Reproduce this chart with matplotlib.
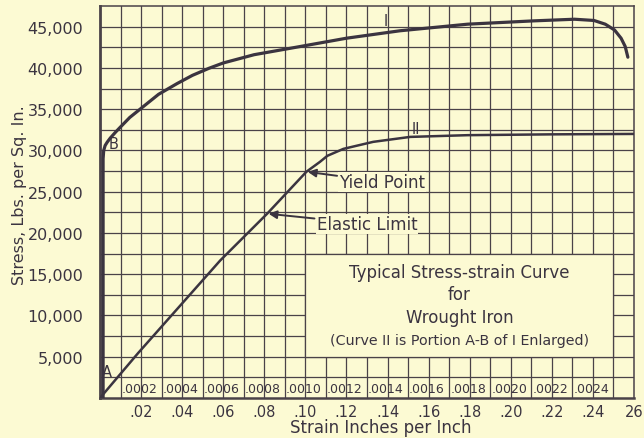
import matplotlib.pyplot as plt
import numpy as np

# curve I : full test
strain_1 = [0.0015, 0.0015, 0.0018, 0.0025, 0.0035, 0.005, 0.0075, 0.010, 0.0145, 0.0195,
            0.0285, 0.0375, 0.045, 0.053, 0.060, 0.075, 0.0976, 0.120, 0.146, 0.179,
            0.211, 0.231, 0.2405, 0.246, 0.2505, 0.2537, 0.2557, 0.257]
stress_1 = [0, 29000, 30000, 30600, 31000, 31500, 32200, 32850, 34000, 35000,
            36800, 38100, 39100, 39950, 40600, 41600, 42600, 43600, 44500, 45300,
            45700, 45900, 45750, 45300, 44600, 43600, 42600, 41300]

# curve II : portion A-B enlarged
strain_2 = [0, 0.0185, 0.0585, 0.0814, 0.1005, 0.1070, 0.1107, 0.1185, 0.133, 0.151, 0.179, 0.22, 0.26]
stress_2 = [0, 5430, 16660, 22340, 27420, 28600, 29350, 30190, 31040, 31640, 31850, 31950, 32000]

y_ticks = [5000, 10000, 15000, 20000, 25000, 30000, 35000, 40000, 45000]
x_ticks = [0.02, 0.04, 0.06, 0.08, 0.10, 0.12, 0.14, 0.16, 0.18, 0.20, 0.22, 0.24, 0.26]
x_labels = [".02", ".04", ".06", ".08", ".10", ".12", ".14", ".16", ".18", ".20", ".22", ".24", "26"]
small_labels = [".0002", ".0004", ".0006", ".0008", ".0010", ".0012", ".0014",
                ".0016", ".0018", ".0020", ".0022", ".0024"]

bg = "#fcfad3"
ink = "#3b3440"
grid_col = "#4a4248"

fig = plt.figure(figsize=(6.44, 4.39), dpi=100, facecolor=bg)
ax = fig.add_axes([0.1553, 0.0911, 0.8292, 0.8929])
ax.set_facecolor(bg)

ax.set_xlim(0, 0.26)
ax.set_ylim(0, 47500)

# grid every 0.01 / 2500
for xv in np.arange(0.01, 0.26, 0.01):
    ax.axvline(xv, color=grid_col, lw=0.9, zorder=1)
for yv in np.arange(2500, 47500, 2500):
    ax.axhline(yv, color=grid_col, lw=0.9, zorder=1)

for s in ax.spines.values():
    s.set_color(grid_col)
    s.set_linewidth(1.1)
ax.spines["left"].set_linewidth(2.0)
ax.spines["bottom"].set_linewidth(1.8)

# info box hides the grid
box = plt.Rectangle((0.10, 5000), 0.15, 12500, facecolor=bg, edgecolor=grid_col, lw=0.9, zorder=2)
ax.add_patch(box)

ax.plot(strain_1, stress_1, color=ink, lw=2.3, zorder=4, solid_capstyle="round", solid_joinstyle="round")
ax.plot(strain_2, stress_2, color=ink, lw=1.8, zorder=4, solid_capstyle="round", solid_joinstyle="round")

ax.set_xticks(x_ticks)
ax.set_xticklabels(x_labels)
ax.set_yticks(y_ticks)
ax.set_yticklabels([f"{v:,}" for v in y_ticks])
ax.tick_params(axis="y", length=0, colors=ink, labelsize=11.5, pad=12)
ax.tick_params(axis="x", length=0, colors=ink, labelsize=10.5, pad=4)

for i, lab in enumerate(small_labels):
    ax.text(0.0105 + 0.02 * i, 1200, lab, fontsize=9, color=ink, ha="left", va="center", zorder=3)

ax.text(0.0035, 3200, "A", fontsize=10.5, color=ink, ha="center", va="center", zorder=5)
ax.text(0.0065, 30900, "B", fontsize=10.5, color=ink, ha="center", va="center", zorder=5)
ax.text(0.139, 45700, "I", fontsize=10.5, color=ink, ha="center", va="center", zorder=5)
ax.text(0.154, 32700, "II", fontsize=10.5, color=ink, ha="center", va="center", zorder=5)

ax.annotate("Yield Point", xy=(0.1005, 27420), xytext=(0.1165, 26200),
            fontsize=12, color=ink, va="center", ha="left", zorder=5,
            bbox=dict(boxstyle="square,pad=0.05", fc=bg, ec="none"),
            arrowprops=dict(arrowstyle="-|>", color=ink, lw=1.4, shrinkA=1, shrinkB=1))
ax.annotate("Elastic Limit", xy=(0.0814, 22340), xytext=(0.1055, 21100),
            fontsize=12, color=ink, va="center", ha="left", zorder=5,
            bbox=dict(boxstyle="square,pad=0.05", fc=bg, ec="none"),
            arrowprops=dict(arrowstyle="-|>", color=ink, lw=1.4, shrinkA=1, shrinkB=1))

ax.text(0.175, 15250, "Typical Stress-strain Curve", fontsize=12, color=ink, ha="center", va="center", zorder=5)
ax.text(0.175, 12600, "for", fontsize=12, color=ink, ha="center", va="center", zorder=5)
ax.text(0.175, 9850, "Wrought Iron", fontsize=12, color=ink, ha="center", va="center", zorder=5)
ax.text(0.175, 7050, "(Curve II is Portion A-B of I Enlarged)", fontsize=10.3, color=ink, ha="center", va="center", zorder=5)

ax.set_ylabel("Stress, Lbs. per Sq. In.", fontsize=11.5, color=ink)
ax.yaxis.set_label_coords(-0.137, 0.52)
ax.set_xlabel("Strain Inches per Inch", fontsize=12, color=ink)
ax.xaxis.set_label_coords(0.526, -0.05)

fig.savefig("out.png", dpi=100, facecolor=bg)
